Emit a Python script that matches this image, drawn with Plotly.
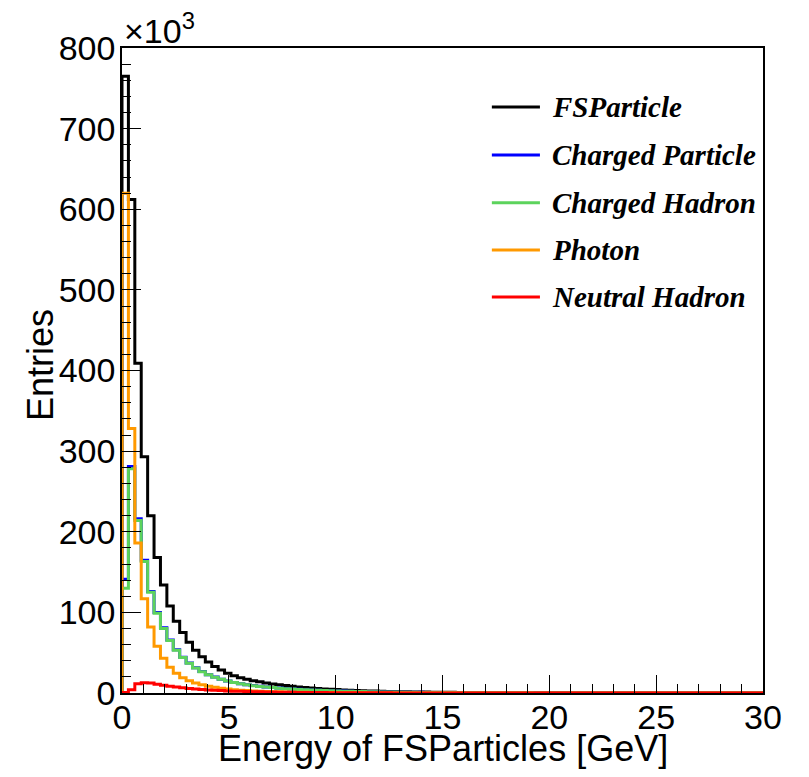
import plotly.graph_objects as go

# ---------------- data (entries in units of 10^3, 100 bins of 0.3 GeV from 0 to 30 GeV) ----------------
bin_low = 0.0
bin_high = 30.0
n_bins = 100

fsparticle = [
    765, 612, 409, 293, 220, 168, 134, 108, 89, 75,
    63, 53, 45, 38.5, 33, 28.5, 24.5, 21.5, 19, 17,
    15.3, 13.8, 12.5, 11.3, 10.2, 9.2, 8.3, 7.5, 6.8, 6.2,
    5.6, 5.1, 4.6, 4.2, 3.8, 3.45, 3.15, 2.85, 2.6, 2.35,
    2.15, 1.95, 1.78, 1.62, 1.48, 1.35, 1.23, 1.12, 1.02, 0.93,
    0.85, 0.78, 0.71, 0.65, 0.59, 0.54, 0.49, 0.45, 0.41, 0.38,
    0.35, 0.32, 0.29, 0.27, 0.25, 0.23, 0.21, 0.19, 0.17, 0.16,
    0.15, 0.14, 0.13, 0.12, 0.11, 0.10, 0.09, 0.085, 0.08, 0.075,
    0.07, 0.065, 0.06, 0.055, 0.05, 0.047, 0.044, 0.041, 0.038, 0.035,
    0.033, 0.031, 0.029, 0.027, 0.025, 0.023, 0.022, 0.021, 0.02, 0.019,
]

charged_particle = [
    141, 281, 216, 164.5, 126, 100, 80.8, 65.6, 53.5, 44.4,
    37.3, 31.3, 26.7, 22.7, 19.7, 17.1, 14.9, 13.1, 11.6, 10.3,
    9.2, 8.3, 7.5, 6.8, 6.1, 5.5, 5.0, 4.5, 4.1, 3.75,
    3.4, 3.1, 2.83, 2.58, 2.33, 2.13, 1.94, 1.77, 1.62, 1.48,
    1.35, 1.23, 1.12, 1.02, 0.93, 0.85, 0.78, 0.71, 0.65, 0.59,
    0.54, 0.5, 0.46, 0.42, 0.38, 0.35, 0.32, 0.29, 0.27, 0.25,
    0.23, 0.21, 0.19, 0.175, 0.16, 0.145, 0.135, 0.125, 0.115, 0.105,
    0.095, 0.088, 0.08, 0.074, 0.068, 0.062, 0.057, 0.053, 0.049, 0.045,
    0.042, 0.039, 0.036, 0.033, 0.03, 0.028, 0.026, 0.024, 0.022, 0.021,
    0.019, 0.018, 0.017, 0.016, 0.015, 0.014, 0.013, 0.012, 0.011, 0.011,
]

charged_hadron = [
    130, 278, 214, 163, 125, 99, 80, 65, 53, 44,
    37, 31, 26.5, 22.5, 19.5, 17, 14.8, 13, 11.5, 10.2,
    9.1, 8.2, 7.4, 6.7, 6.0, 5.4, 4.9, 4.45, 4.05, 3.7,
    3.35, 3.05, 2.8, 2.55, 2.3, 2.1, 1.92, 1.75, 1.6, 1.46,
    1.33, 1.21, 1.1, 1.0, 0.92, 0.84, 0.77, 0.7, 0.64, 0.58,
    0.53, 0.49, 0.45, 0.41, 0.37, 0.34, 0.31, 0.28, 0.26, 0.24,
    0.22, 0.2, 0.18, 0.17, 0.155, 0.14, 0.13, 0.12, 0.11, 0.1,
    0.092, 0.085, 0.078, 0.072, 0.066, 0.06, 0.055, 0.051, 0.047, 0.043,
    0.04, 0.037, 0.034, 0.031, 0.029, 0.027, 0.025, 0.023, 0.021, 0.02,
    0.018, 0.017, 0.016, 0.015, 0.014, 0.013, 0.012, 0.011, 0.01, 0.01,
]

photon = [
    620, 328, 186, 117, 82, 58, 43, 32, 24.5, 19,
    15.3, 12.5, 10.3, 8.5, 7.1, 5.9, 4.9, 4.1, 3.5, 3.0,
    2.55, 2.2, 1.9, 1.65, 1.43, 1.24, 1.08, 0.94, 0.82, 0.72,
    0.63, 0.55, 0.48, 0.42, 0.37, 0.33, 0.29, 0.26, 0.23, 0.2,
    0.18, 0.16, 0.14, 0.125, 0.11, 0.1, 0.09, 0.08, 0.07, 0.063,
    0.056, 0.05, 0.045, 0.04, 0.036, 0.032, 0.029, 0.026, 0.023, 0.021,
    0.019, 0.017, 0.015, 0.014, 0.012, 0.011, 0.01, 0.009, 0.008, 0.007,
    0.0065, 0.006, 0.0055, 0.005, 0.0045, 0.004, 0.0036, 0.0033, 0.003, 0.0027,
    0.0025, 0.0023, 0.0021, 0.0019, 0.0017, 0.0016, 0.0015, 0.0014, 0.0013, 0.0012,
    0.0011, 0.001, 0.001, 0.0009, 0.0008, 0.0008, 0.0007, 0.0007, 0.0006, 0.0006,
]

neutral_hadron = [
    0.5, 4, 11.5, 12.8, 12.5, 11, 9.6, 8.4, 7.3, 6.4,
    5.6, 4.9, 4.3, 3.8, 3.35, 2.95, 2.6, 2.3, 2.05, 1.82,
    1.62, 1.45, 1.29, 1.15, 1.03, 0.92, 0.82, 0.74, 0.66, 0.59,
    0.53, 0.48, 0.43, 0.39, 0.35, 0.31, 0.28, 0.25, 0.23, 0.21,
    0.19, 0.17, 0.15, 0.14, 0.125, 0.11, 0.1, 0.09, 0.082, 0.074,
    0.067, 0.06, 0.055, 0.05, 0.045, 0.04, 0.036, 0.033, 0.03, 0.027,
    0.024, 0.022, 0.02, 0.018, 0.016, 0.015, 0.013, 0.012, 0.011, 0.01,
    0.009, 0.008, 0.0075, 0.007, 0.0063, 0.0057, 0.0052, 0.0047, 0.0043, 0.0039,
    0.0035, 0.0032, 0.0029, 0.0026, 0.0024, 0.0022, 0.002, 0.0018, 0.0016, 0.0015,
    0.0014, 0.0013, 0.0012, 0.0011, 0.001, 0.0009, 0.0008, 0.0008, 0.0007, 0.0007,
]

series_names = ["FSParticle", "Charged Particle", "Charged Hadron", "Photon", "Neutral Hadron"]
series_values = [fsparticle, charged_particle, charged_hadron, photon, neutral_hadron]
series_colors = ["#000000", "#0000ff", "#5cd35c", "#ff9900", "#ff0000"]

x_tick_vals = [0, 5, 10, 15, 20, 25, 30]
y_tick_vals = [0, 100, 200, 300, 400, 500, 600, 700, 800]

x_title = "Energy of FSParticles [GeV]"
y_title = "Entries"

# ---------------- figure ----------------
width = (bin_high - bin_low) / n_bins
edges = [bin_low + i * width for i in range(n_bins)]

fig = go.Figure()
for name, vals, col in zip(series_names, series_values, series_colors):
    xs = [bin_low] + edges + [bin_high, bin_high]
    ys = [0] + list(vals) + [vals[-1], 0]
    fig.add_trace(go.Scatter(
        x=xs, y=ys, mode="lines", name=name,
        line=dict(color=col, width=3, shape="hv"),
        showlegend=False, hoverinfo="skip",
    ))

tick_font = dict(family="Liberation Sans, Arial, Helvetica, sans-serif", size=34, color="black")

fig.update_xaxes(
    range=[bin_low, bin_high], tickmode="array", tickvals=x_tick_vals,
    ticktext=[str(v) for v in x_tick_vals],
    ticks="inside", ticklen=18, tickwidth=1, tickcolor="black",
    minor=dict(dtick=1, ticks="inside", ticklen=9, tickcolor="black", tickwidth=1),
    showline=True, linecolor="black", linewidth=1.5, mirror=True,
    showgrid=False, zeroline=False, tickfont=tick_font, ticklabelstandoff=-7,
)
fig.update_yaxes(
    range=[0, 800], tickmode="array", tickvals=y_tick_vals,
    ticktext=[str(v) for v in y_tick_vals],
    ticks="inside", ticklen=19, tickwidth=1, tickcolor="black",
    minor=dict(dtick=20, ticks="inside", ticklen=9, tickcolor="black", tickwidth=1),
    showline=True, linecolor="black", linewidth=1.5, mirror=True,
    showgrid=False, zeroline=False, tickfont=tick_font, ticklabelstandoff=-2,
)

title_font = dict(family="Liberation Sans, Arial, Helvetica, sans-serif", size=36, color="black")
annotations = [
    dict(text=x_title, x=0.5, y=-0.0853, xref="paper", yref="paper",
         xanchor="center", yanchor="middle", showarrow=False, font=title_font),
    dict(text=y_title, x=-0.128, y=0.5085, xref="paper", yref="paper", textangle=-90,
         xanchor="center", yanchor="middle", showarrow=False, font=title_font),
    dict(text="×10<sup>3</sup>", x=0.0, y=1.0, xref="paper", yref="paper",
         xanchor="left", yanchor="bottom", yshift=-4, showarrow=False,
         font=dict(family="Liberation Sans, Arial, Helvetica, sans-serif", size=34, color="black")),
]

# legend (drawn manually, ROOT style)
leg_y = [0.9085, 0.834, 0.760, 0.687, 0.614]
shapes = []
for name, col, yy in zip(series_names, series_colors, leg_y):
    shapes.append(dict(type="line", xref="paper", yref="paper", x0=0.577, x1=0.652,
                       y0=yy, y1=yy, line=dict(color=col, width=3)))
    annotations.append(dict(text="<b><i>" + name + "</i></b>", x=0.667, y=yy,
                            xref="paper", yref="paper", xanchor="left", yanchor="middle",
                            showarrow=False,
                            font=dict(family="Liberation Serif, Times New Roman, serif",
                                      size=29, color="black")))

fig.update_layout(
    width=809, height=777, autosize=False,
    margin=dict(l=122, r=46, t=48, b=84, pad=0),
    paper_bgcolor="white", plot_bgcolor="white",
    annotations=annotations, shapes=shapes, showlegend=False,
)

fig.write_html("out.html")
